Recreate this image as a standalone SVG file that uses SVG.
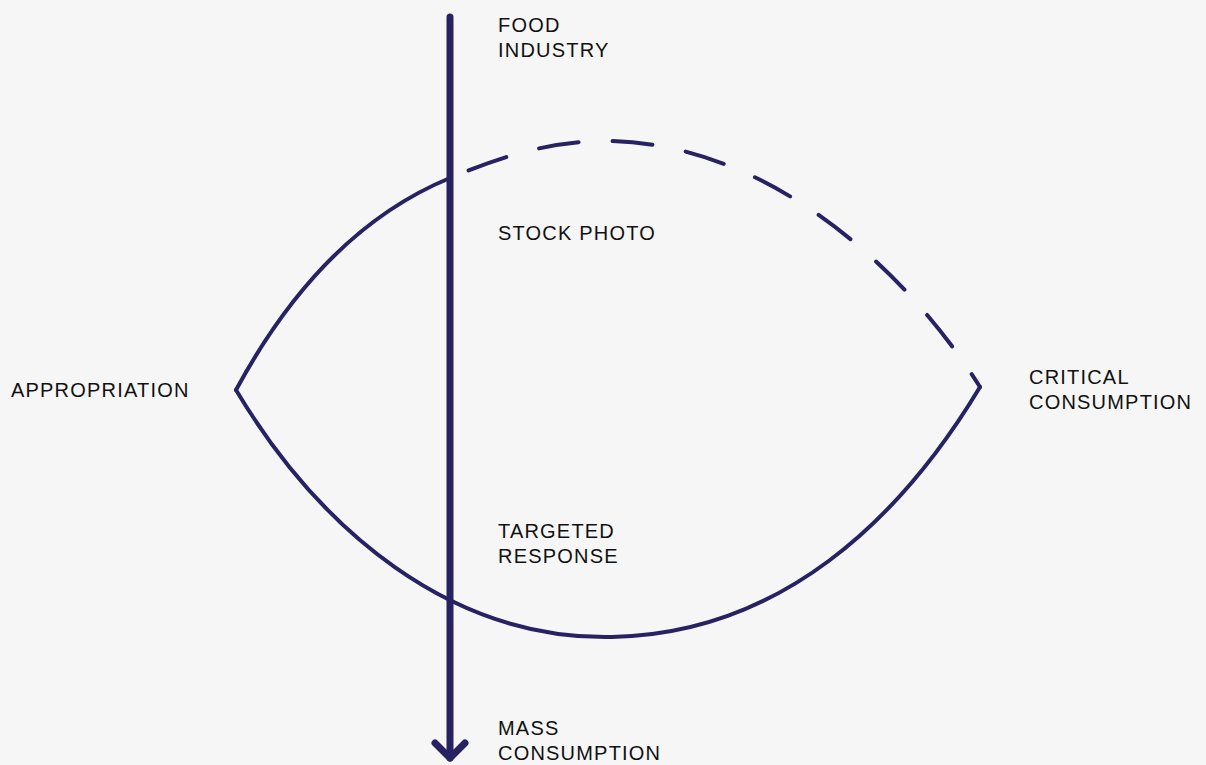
<svg xmlns="http://www.w3.org/2000/svg" width="1206" height="765" viewBox="0 0 1206 765">
<style>
.lbl{font-family:"Liberation Sans",Arial,sans-serif;font-size:20px;letter-spacing:1.2px;fill:#111}
.curve{fill:none;stroke:#272262;stroke-width:4;stroke-linecap:round}
.axis{fill:none;stroke:#272262;stroke-width:7;stroke-linecap:round;stroke-linejoin:round}
</style>
<rect width="1206" height="765" fill="#f6f6f6"/>
<g id="connectors">
<path class="curve" d="M236,390 C290,290 360,215 450,178"/>
<path class="curve" d="M236,390 C320,530 450,640 612,637 C780,634 900,520 980,387"/>
<path class="curve" d="M450,178 C500,157 550,141 605,141 C760,141 900,260 980,387" stroke-dasharray="40 34" stroke-dashoffset="54"/>
<path class="axis" d="M450,17 V758"/>
<path class="axis" d="M435,743 L450,758 L465,743"/>
</g>
<g id="food-industry"><text class="lbl" x="498" y="32">FOOD</text><text class="lbl" x="498" y="57">INDUSTRY</text></g>
<g id="stock-photo"><text class="lbl" x="498" y="240">STOCK PHOTO</text></g>
<g id="appropriation"><text class="lbl" x="11" y="397">APPROPRIATION</text></g>
<g id="critical-consumption"><text class="lbl" x="1029" y="384">CRITICAL</text><text class="lbl" x="1029" y="409">CONSUMPTION</text></g>
<g id="targeted-response"><text class="lbl" x="498" y="538">TARGETED</text><text class="lbl" x="498" y="563">RESPONSE</text></g>
<g id="mass-consumption"><text class="lbl" x="498" y="735">MASS</text><text class="lbl" x="498" y="760">CONSUMPTION</text></g>
</svg>
